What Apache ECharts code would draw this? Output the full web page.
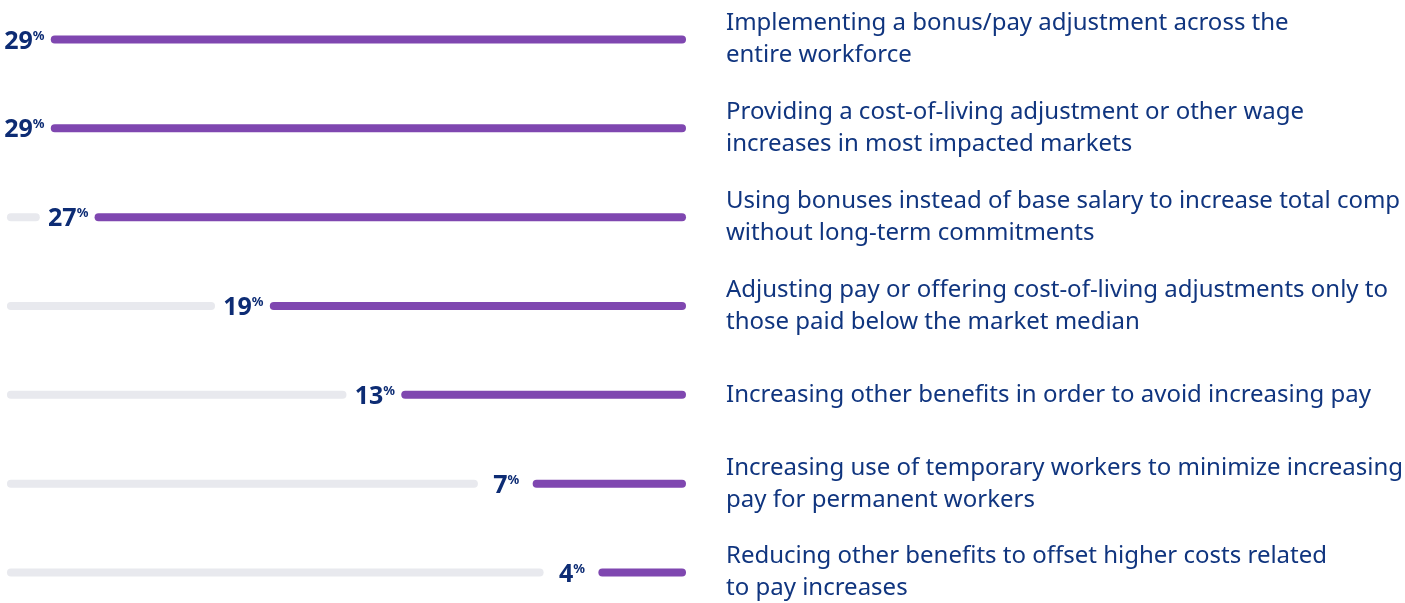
<!DOCTYPE html>
<html>
<head>
<meta charset="utf-8">
<script src="https://cdn.jsdelivr.net/npm/echarts@6/dist/echarts.min.js"></script>
<style>
  html, body { margin: 0; padding: 0; background: #fff; }
  #chart { width: 1405px; height: 603px; }
</style>
</head>
<body>
<div id="chart"></div>
<script>
var categories = [
  "Implementing a bonus/pay adjustment across the\nentire workforce",
  "Providing a cost-of-living adjustment or other wage\nincreases in most impacted markets",
  "Using bonuses instead of base salary to increase total comp\nwithout long-term commitments",
  "Adjusting pay or offering cost-of-living adjustments only to\nthose paid below the market median",
  "Increasing other benefits in order to avoid increasing pay",
  "Increasing use of temporary workers to minimize increasing\npay for permanent workers",
  "Reducing other benefits to offset higher costs related\nto pay increases"
];
var values = [29, 29, 27, 19, 13, 7, 4];
var trackMax = 31;
var gap = 2.5;

var gapData = values.map(function () { return gap; });
var trackData = values.map(function (v) { return Math.max(0, trackMax - v - gap); });

var navy = "#0d2c74";
var chart = echarts.init(document.getElementById("chart"));
chart.setOption({
  animation: false,
  grid: { left: -4, width: 690, top: -5, height: 622, outerBoundsMode: "none", containLabel: false },
  xAxis: { type: "value", min: 0, max: 31.5, inverse: true, show: false },
  yAxis: {
    type: "category",
    data: categories,
    inverse: true,
    position: "right",
    axisLine: { show: false },
    axisTick: { show: false },
    axisLabel: {
      align: "left",
      margin: 40,
      fontFamily: "Noto Sans",
      fontSize: 24,
      lineHeight: 32,
      color: "#10357f"
    }
  },
  series: [
    {
      type: "bar",
      stack: "s",
      data: values,
      barWidth: 8,
      itemStyle: { color: "#7f47b0", borderRadius: 4 }
    },
    {
      type: "bar",
      stack: "s",
      data: gapData,
      barWidth: 8,
      itemStyle: { color: "transparent" },
      label: {
        show: true,
        position: "inside",
        offset: [1, 2],
        formatter: function (p) { return "{a|" + values[p.dataIndex] + "}{b|%}"; },
        rich: {
          a: { fontFamily: "Noto Sans", fontWeight: "bold", fontSize: 25, color: navy },
          b: { fontFamily: "Noto Sans", fontWeight: "bold", fontSize: 13, color: navy, padding: [0, 0, 11, 0] }
        }
      }
    },
    {
      type: "bar",
      stack: "s",
      data: trackData,
      barWidth: 8,
      itemStyle: { color: "#e8e9ee", borderRadius: 4 }
    }
  ]
});
</script>
</body>
</html>
